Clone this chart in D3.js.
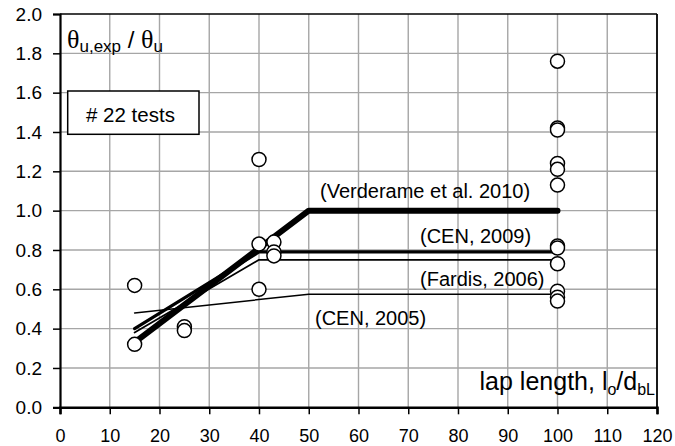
<!DOCTYPE html>
<html>
<head>
<meta charset="utf-8">
<script src="https://cdn.jsdelivr.net/npm/d3@7"></script>
<style>
  html, body { margin: 0; padding: 0; background: #fff; }
  svg { display: block; }
  text { font-family: "Liberation Sans", Arial, sans-serif; fill: #000; }
</style>
</head>
<body>
<svg id="chart" width="675" height="446"></svg>
<script>
// Test results: normalised ultimate chord rotation vs lap length
const lapX = [15, 15, 25, 25, 40, 40, 40, 43, 43, 43,
              100, 100, 100, 100, 100, 100, 100, 100, 100, 100, 100, 100];
const ratioY = [0.62, 0.32, 0.41, 0.39, 1.26, 0.83, 0.60, 0.84, 0.79, 0.77,
                1.76, 1.42, 1.41, 1.24, 1.21, 1.13, 0.82, 0.81, 0.73, 0.59, 0.56, 0.54];

// Model curves (lap length -> ratio)
const verderameX = [15, 50, 100];
const verderameY = [0.33, 1.00, 1.00];
const cen2009X = [15, 40, 100];
const cen2009Y = [0.40, 0.79, 0.79];
const fardisX = [15, 40, 100];
const fardisY = [0.38, 0.75, 0.75];
const cen2005X = [15, 50, 100];
const cen2005Y = [0.48, 0.575, 0.575];

const xTicks = [0, 10, 20, 30, 40, 50, 60, 70, 80, 90, 100, 110, 120];
const yTicks = [0.0, 0.2, 0.4, 0.6, 0.8, 1.0, 1.2, 1.4, 1.6, 1.8, 2.0];

const svg = d3.select("#chart");
const L = 60, R = 657, T = 14, B = 407.3;

const x = d3.scaleLinear().domain([0, 120]).range([L, R]);
const y = d3.scaleLinear().domain([0, 2.0]).range([B, T]);

// grid
const grid = svg.append("g").attr("stroke", "#a6a6a6").attr("stroke-width", 1.4);
grid.selectAll("line.v").data(xTicks.slice(1, -1)).join("line")
  .attr("x1", d => x(d)).attr("x2", d => x(d)).attr("y1", T).attr("y2", B);
grid.selectAll("line.h").data(yTicks.slice(1, -1)).join("line")
  .attr("x1", L).attr("x2", R).attr("y1", d => y(d)).attr("y2", d => y(d));

// frame top / right
svg.append("line").attr("x1", L).attr("x2", R).attr("y1", T).attr("y2", T)
  .attr("stroke", "#000").attr("stroke-width", 1.5);
svg.append("line").attr("x1", R).attr("x2", R).attr("y1", T).attr("y2", B)
  .attr("stroke", "#000").attr("stroke-width", 1.8);

// axes
const yAxis = d3.axisLeft(y).tickValues(yTicks).tickSize(7).tickPadding(11)
  .tickFormat(d3.format(".1f"));
const xAxis = d3.axisBottom(x).tickValues(xTicks).tickSize(7).tickPadding(15)
  .tickFormat(d3.format("d"));

const gy = svg.append("g").attr("transform", `translate(${L},0)`).call(yAxis);
const gx = svg.append("g").attr("transform", `translate(0,${B})`).call(xAxis);
[gy, gx].forEach(g => {
  g.selectAll(".tick line").attr("stroke", "#000").attr("stroke-width", 1.5);
  g.attr("font-family", null).attr("font-size", null);
});
gy.selectAll("text").style("font-size", "19px");
gx.selectAll("text").style("font-size", "18px");
gy.select(".domain").attr("stroke", "#000").attr("stroke-width", 2.2);
gx.select(".domain").attr("stroke", "#000").attr("stroke-width", 2.6);

// model curves
const curve = d3.line().x(d => x(d[0])).y(d => y(d[1]));
const models = [
  { xs: cen2005X, ys: cen2005Y, w: 1.5 },
  { xs: fardisX, ys: fardisY, w: 1.8 },
  { xs: cen2009X, ys: cen2009Y, w: 3.2 },
  { xs: verderameX, ys: verderameY, w: 6 }
];
models.forEach(m => {
  svg.append("path")
    .datum(d3.zip(m.xs, m.ys))
    .attr("d", curve)
    .attr("fill", "none").attr("stroke", "#000")
    .attr("stroke-width", m.w)
    .attr("stroke-linejoin", "round").attr("stroke-linecap", "round");
});

// test points
svg.append("g").selectAll("circle").data(d3.zip(lapX, ratioY)).join("circle")
  .attr("cx", d => x(d[0])).attr("cy", d => y(d[1])).attr("r", 7)
  .attr("fill", "#fff").attr("stroke", "#000").attr("stroke-width", 1.5);

// curve labels
const labels = [
  { t: "(Verderame et al. 2010)", x: 320, y: 198 },
  { t: "(CEN, 2009)", x: 420, y: 243 },
  { t: "(Fardis, 2006)", x: 420, y: 286 },
  { t: "(CEN, 2005)", x: 315, y: 325 }
];
svg.selectAll("text.lab").data(labels).join("text").attr("class", "lab")
  .attr("x", d => d.x).attr("y", d => d.y).style("font-size", "20px").text(d => d.t);

// count box
svg.append("rect").attr("x", 67.7).attr("y", 91).attr("width", 131.3).attr("height", 43.3)
  .attr("fill", "#fff").attr("stroke", "#000").attr("stroke-width", 1.5);
svg.append("text").attr("x", 86).attr("y", 121.5).style("font-size", "20.5px").text("# 22 tests");

// y title
const yt = svg.append("text").attr("x", 67).attr("y", 48).style("font-size", "24px");
yt.append("tspan").attr("font-family", "Liberation Serif, serif").style("font-size", "26px").text("θ");
yt.append("tspan").attr("dy", 4).style("font-size", "17px").text("u,exp");
yt.append("tspan").attr("dy", -4).text(" / ");
yt.append("tspan").attr("font-family", "Liberation Serif, serif").style("font-size", "26px").text("θ");
yt.append("tspan").attr("dy", 4).style("font-size", "17px").text("u");

// x title
const xt = svg.append("text").attr("x", 655).attr("y", 390).attr("text-anchor", "end")
  .style("font-size", "25px");
xt.append("tspan").text("lap length, l");
xt.append("tspan").attr("dy", 5).style("font-size", "16px").text("o");
xt.append("tspan").attr("dy", -5).text("/d");
xt.append("tspan").attr("dy", 5).style("font-size", "16px").text("bL");
</script>
</body>
</html>
